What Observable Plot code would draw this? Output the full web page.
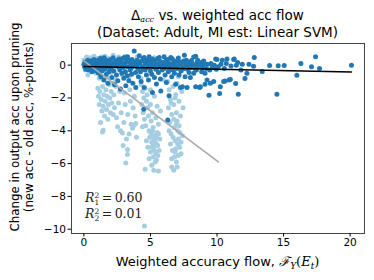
<!DOCTYPE html>
<html><head><meta charset="utf-8">
<script src="https://cdn.jsdelivr.net/npm/d3@7"></script>
<script src="https://cdn.jsdelivr.net/npm/@observablehq/plot@0.6"></script>
<style>body{margin:0;background:#fff} svg{display:block}</style>
</head><body><div id="chart"></div>
<script>
// Series 2 (dark): change vs. weighted accuracy flow
const darkPoints = [
[0.0,0.05],[0.05,-0.1],[0.1,0.2],[0.15,-0.25],[0.2,0.1],[0.25,-0.05],[0.3,0.3],[0.35,-0.3],[0.4,0.0],[0.45,0.15],[0.5,-0.15],[0.55,0.25],[0.6,-0.4],[0.65,0.05],[0.7,-0.2],[0.75,0.35],[0.8,-0.05],[0.85,0.1],[0.9,-0.35],[0.95,0.2],[1.0,-0.1],
[1.05,0.3],[1.1,-0.5],[1.12,0.05],[1.18,-0.2],[1.22,0.4],[1.28,-0.7],[1.3,0.1],[1.35,-0.35],[1.4,0.25],[1.45,-0.05],[1.5,-0.9],[1.52,0.45],[1.58,-0.25],[1.62,0.12],[1.68,-0.55],[1.7,0.3],[1.75,-0.1],[1.8,-1.1],[1.85,0.2],[1.9,-0.4],[1.95,0.05],
[2.0,0.35],[2.05,-0.2],[2.1,-0.75],[2.15,0.1],[2.2,0.45],[2.25,-0.35],[2.3,-1.2],[2.35,0.2],[2.4,-0.05],[2.45,-0.6],[2.5,0.3],[2.55,-0.95],[2.6,0.05],[2.65,0.37],[2.7,-0.3],[2.75,-1.45],[2.8,0.15],[2.85,-0.5],[2.9,0.4],[2.95,-0.15],[3.0,-0.8],
[3.03,0.47],[3.08,0.0],[3.12,-0.4],[3.15,-1.26],[3.2,0.25],[3.25,-0.65],[3.28,0.51],[3.32,-0.1],[3.38,-0.95],[3.42,0.3],[3.48,-0.3],[3.52,0.1],[3.58,-0.55],[3.62,0.35],[3.68,-1.1],[3.72,-0.05],[3.78,0.87],[3.82,0.2],[3.88,-0.45],[3.9,-1.36],[3.95,0.05],
[4.0,0.3],[4.05,-0.2],[4.1,-0.7],[4.16,0.57],[4.2,0.1],[4.25,-0.4],[4.3,-1.0],[4.35,0.25],[4.4,-0.1],[4.45,0.4],[4.5,-2.68],[4.53,0.47],[4.53,-1.36],[4.6,-0.3],[4.65,0.15],[4.7,-0.6],[4.75,0.3],[4.8,-0.15],[4.85,-0.9],[4.9,0.51],[4.95,0.0],
[5.0,-0.35],[5.05,0.2],[5.1,-0.55],[5.15,0.37],[5.15,-1.67],[5.2,-0.1],[5.25,0.1],[5.3,-0.75],[5.35,0.3],[5.4,-0.25],[5.45,-1.15],[5.5,0.05],[5.55,0.4],[5.6,-0.45],[5.66,0.47],[5.7,-0.05],[5.75,-0.85],[5.78,-1.57],[5.82,0.2],[5.88,-0.3],[5.95,0.1],
[6.03,0.51],[6.05,-0.2],[6.1,-0.6],[6.15,0.25],[6.2,-1.05],[6.25,0.0],[6.3,-3.35],[6.3,0.35],[6.35,-0.4],[6.4,-1.87],[6.45,0.1],[6.5,-0.15],[6.53,0.47],[6.6,-0.7],[6.65,0.37],[6.7,-0.3],[6.75,0.15],[6.8,-0.5],[6.85,-0.05],[6.9,-1.16],[6.95,0.25],
[7.0,-0.2],[7.05,0.3],[7.1,0.43],[7.15,-0.6],[7.2,0.05],[7.25,-1.36],[7.3,-0.35],[7.35,0.2],[7.4,-1.32],[7.45,-0.1],[7.5,0.25],[7.55,0.61],[7.6,-0.71],[7.65,0.0],[7.7,0.3],[7.75,-1.36],[7.8,-0.25],[7.85,0.15],[7.9,-0.45],[7.95,0.05],
[8.0,-0.75],[8.05,0.2],[8.1,-0.15],[8.15,0.1],[8.25,0.5],[8.25,-0.5],[8.3,0.0],[8.4,0.55],[8.4,-1.32],[8.45,-0.3],[8.5,0.15],[8.6,-0.1],[8.7,-1.36],[8.75,0.05],[8.75,-1.32],[8.85,-0.4],[8.9,0.2],[8.95,-0.15],
[9.05,0.1],[9.1,-0.5],[9.1,-1.16],[9.2,-0.2],[9.25,-0.91],[9.3,0.05],[9.4,-1.83],[9.45,-0.3],[9.5,-1.1],[9.55,0.1],[9.65,-0.15],[9.75,-1.0],[9.8,0.0],[9.9,0.37],[9.95,-0.25],
[10.0,0.35],[10.1,-0.1],[10.2,-1.73],[10.25,-1.32],[10.3,0.05],[10.4,0.3],[10.5,-1.0],[10.55,-0.2],[10.6,-0.96],[10.7,0.1],[10.75,0.37],[10.9,-0.91],[11.0,-0.87],[11.05,-0.05],[11.25,0.35],[11.3,0.37],[11.4,-1.12],[11.45,0.0],[11.55,0.16],[11.6,-1.77],[11.8,-0.3],[11.9,0.05],
[12.1,-0.81],[12.25,-0.5],[12.4,0.06],[12.75,-0.06],[12.8,0.47],[13.4,-0.38],[13.95,-0.02],[14.5,-1.77],[14.6,-0.04],[15.05,-0.02],[16.0,-0.61],[16.3,0.1],[17.1,-0.1],[17.4,0.51],[17.7,-0.2],[20.1,0.0],
[0.12,0.0],[0.32,0.12],[0.52,-0.02],[0.72,0.15],[0.92,-0.12],[1.15,0.18],[1.33,-0.08],[1.55,0.0],[1.78,0.12],[1.98,-0.22],[2.18,-0.05],[2.42,0.18],[2.62,-0.12],[2.88,0.02],[3.1,0.15],[3.35,0.22],[3.55,-0.18],[3.75,0.1],[3.98,-0.1],[4.22,0.2],[4.42,-0.22],[4.62,0.05],[4.88,0.25],[5.08,-0.05],[5.32,0.12],[5.52,-0.15],[5.72,0.22],[5.98,-0.08],[6.18,0.1],[6.42,-0.25],[6.62,0.05],[6.88,0.18],[7.08,-0.08],[7.28,0.15],[7.48,-0.22],[7.68,0.12],[7.88,-0.02],[8.08,0.28],[8.35,-0.2],[8.55,0.3],[8.8,-0.05],[9.0,0.25]
];
// Series 1 (light)
const lightPoints = [
[0.0,0.3],[0.1,-0.3],[0.2,0.5],[0.3,-0.6],[0.45,0.45],[0.6,-0.2],[0.75,0.55],[0.9,-0.5],[1.0,0.4],[1.15,-0.8],[1.3,0.5],[1.45,-0.3],[1.6,0.55],[1.75,-0.7],[1.9,0.4],[2.05,-0.45],[2.2,0.6],[2.4,-0.9],[2.6,0.5],[2.9,-0.6],[3.1,0.55],[3.4,-0.7],[4.0,0.5],[4.3,-0.8],[5.3,0.45],[6.0,-0.9],[7.1,-0.7],
[1.05,-1.4],[1.1,-1.9],[1.15,-2.4],[1.2,-1.6],[1.25,-3.5],[1.3,-2.1],[1.35,-2.8],[1.4,-1.3],[1.45,-3.96],[1.45,-2.5],[1.5,-1.8],[1.55,-3.1],[1.6,-2.2],[1.65,-1.5],[1.7,-2.7],[1.75,-1.9],[1.8,-3.3],[1.85,-2.4],[1.9,-1.2],[1.95,-2.0],[2.0,-2.9],[2.05,-1.6],[2.1,-2.3],[2.15,-1.1],[2.2,-3.0],[2.25,-1.8],[1.4,-4.07],
[2.3,-2.6],[2.45,-3.2],[2.53,-3.76],[2.6,-2.3],[2.75,-4.0],[2.8,-2.9],[2.9,-4.13],[2.95,-4.9],[3.0,-3.5],[3.1,-2.4],[3.15,-5.96],[3.2,-4.5],[3.27,-5.45],[3.28,-5.14],[3.3,-3.0],[3.4,-4.2],[3.5,-2.2],[3.55,-3.6],[3.65,-3.85],[3.7,-2.6],[3.78,-3.66],[3.85,-3.1],[3.9,-3.55],[3.95,-4.4],[3.05,-1.7],[3.45,-1.5],[3.8,-1.9],[2.7,-1.6],[2.4,-1.3],
[4.3,-1.2],[4.4,-1.6],[4.5,-2.0],[4.35,-2.4],[4.45,-2.9],[4.6,-1.4],[4.7,-2.2],[4.55,-3.3],[4.4,-3.76],[4.65,-3.7],[4.75,-1.8],[4.8,-2.6],[4.85,-3.1],[4.9,-4.0],[4.95,-4.4],[5.0,-1.5],[5.0,-2.4],[5.05,-3.4],[5.1,-4.7],[5.1,-6.1],[5.15,-2.9],[5.2,-3.8],[5.25,-5.0],[5.25,-6.4],[5.3,-4.3],[5.3,-1.9],[5.35,-4.6],[5.4,-5.4],[5.4,-3.2],[5.45,-5.8],[5.5,-4.1],[5.5,-2.5],[5.55,-4.9],[5.6,-6.45],[5.6,-3.6],[5.65,-5.2],[5.7,-4.5],[5.75,-2.8],[5.0,-5.3],[4.9,-5.7],[5.2,-5.6],[5.35,-5.9],[4.6,-6.35],[4.8,-5.0],[5.15,-4.0],[5.05,-4.2],[5.45,-4.8],[5.25,-4.5],[5.55,-5.5],[4.7,-4.6],[5.1,-5.0],[5.3,-5.2],[5.4,-4.4],[5.6,-4.2],[5.2,-4.9],
[6.3,-1.0],[6.4,-1.5],[6.5,-2.1],[6.35,-2.6],[6.6,-3.0],[6.45,-3.5],[6.7,-1.3],[6.75,-2.4],[6.8,-3.8],[6.55,-4.2],[6.85,-4.6],[6.9,-1.8],[6.95,-2.9],[7.0,-3.4],[7.05,-4.0],[7.1,-4.5],[7.15,-2.2],[7.2,-5.0],[7.25,-3.1],[7.3,-5.4],[7.35,-1.6],[7.4,-4.3],[6.6,-6.2],[6.75,-6.4],[7.0,-6.2],[6.65,-5.2],[6.8,-5.6],[6.95,-5.9],[7.1,-5.5],[6.5,-4.8],[6.7,-4.4],[6.9,-5.1],[7.05,-4.8],[6.6,-5.7],[6.85,-5.3],[7.2,-4.1],[6.75,-3.3],[6.95,-3.6],[7.15,-3.7],[6.4,-4.0],[7.45,-2.6],[7.3,-4.7],[6.55,-2.3],[6.85,-2.0],[7.0,-1.1],
[4.55,-9.8]
];
// Fitted regression lines (endpoints)
const fitLightX = [0, 10.1];
const fitLightY = [0.26, -5.9];
const fitDarkX = [0, 20.1];
const fitDarkY = [-0.08, -0.42];
const xTicks = [0, 5, 10, 15, 20];
const yTicks = [0, -2, -4, -6, -8, -10];
const r2Labels = [["1", "0.60"], ["2", "0.01"]];

const toObj = a => a.map(([x, y]) => ({x, y}));
const light = toObj(lightPoints), dark = toObj(darkPoints);
const fitL = fitLightX.map((x, i) => ({x, y: fitLightY[i]}));
const fitD = fitDarkX.map((x, i) => ({x, y: fitDarkY[i]}));

const W = 374, H = 280;
const chart = Plot.plot({
  width: W, height: H,
  marginTop: 43, marginRight: 10, marginBottom: 47, marginLeft: 71,
  style: {fontFamily: "DejaVu Sans", fontSize: "10px", color: "#000", background: "#fff"},
  x: {domain: [-0.93, 21.08]},
  y: {domain: [-10.26, 1.32]},
  marks: [
    Plot.dot(light, {x: "x", y: "y", r: 2.5, fill: "#a6cee3"}),
    Plot.dot(dark, {x: "x", y: "y", r: 2.5, fill: "#1f78b4"}),
    Plot.line(fitL, {x: "x", y: "y", stroke: "#a9a9a9", strokeWidth: 1.5}),
    Plot.line(fitD, {x: "x", y: "y", stroke: "#000", strokeWidth: 1.5}),
    Plot.frame({stroke: "#444", strokeWidth: 1}),
    Plot.axisX({ticks: xTicks, tickSize: 3.5, tickPadding: 2, label: null, fontSize: 10.5}),
    Plot.axisY({ticks: yTicks, tickSize: 3.5, tickPadding: 2, label: null, fontSize: 10.5})
  ]
});
document.getElementById("chart").append(chart);

const svg = d3.select(chart);
const cx = (71 + (W - 10)) / 2;
const txt = (x, y, size, family) => svg.append("text").attr("x", x).attr("y", y)
  .attr("font-family", family || "DejaVu Sans").attr("font-size", size).attr("fill", "#000");
// Title
const t1 = txt(cx, 20, 13.5).attr("text-anchor", "middle");
t1.append("tspan").text("Δ");
t1.append("tspan").attr("dy", 2).attr("font-size", 8).attr("font-family", "DejaVu Serif").attr("font-style", "italic").text("acc");
t1.append("tspan").attr("dy", -2).text(" vs. weighted acc flow");
txt(cx, 37, 13.5).attr("text-anchor", "middle").text("(Dataset: Adult, MI est: Linear SVM)");
// X label
const xl = txt(cx, 266, 13).attr("text-anchor", "middle");
xl.append("tspan").text("Weighted accuracy flow, ");
xl.append("tspan").attr("font-family", "DejaVu Serif").attr("font-style", "italic").text("ℱ");
xl.append("tspan").attr("dy", 3).attr("font-size", 9).attr("font-family", "DejaVu Serif").attr("font-style", "italic").text("Y");
xl.append("tspan").attr("dy", -3).attr("font-family", "DejaVu Serif").text("(");
xl.append("tspan").attr("font-family", "DejaVu Serif").attr("font-style", "italic").text("E");
xl.append("tspan").attr("dy", 3).attr("font-size", 9).attr("font-family", "DejaVu Serif").attr("font-style", "italic").text("t");
xl.append("tspan").attr("dy", -3).attr("font-family", "DejaVu Serif").text(")");
// Y label (two lines)
const yl = svg.append("text").attr("transform", "translate(19,127) rotate(-90)").attr("text-anchor", "middle")
  .attr("font-family", "DejaVu Sans").attr("font-size", 11.8).attr("fill", "#000");
yl.append("tspan").attr("x", 0).attr("y", 0).text("Change in output acc upon pruning");
yl.append("tspan").attr("x", 0).attr("y", 13.5).text("(new acc - old acc, %-points)");
// R^2 annotations
r2Labels.forEach(([sub, val], i) => {
  const t = txt(85, 202 + i * 16, 12.5, "DejaVu Serif").attr("text-anchor", "start").attr("fill", "#222");
  t.append("tspan").attr("font-style", "italic").text("R");
  t.append("tspan").attr("dy", -4.5).attr("font-size", 7.5).text("2");
  t.append("tspan").attr("dx", -4.8).attr("dy", 7.5).attr("font-size", 7.5).text(sub);
  t.append("tspan").attr("dy", -3).text("\u2009=\u2009" + val);
});
</script></body></html>
